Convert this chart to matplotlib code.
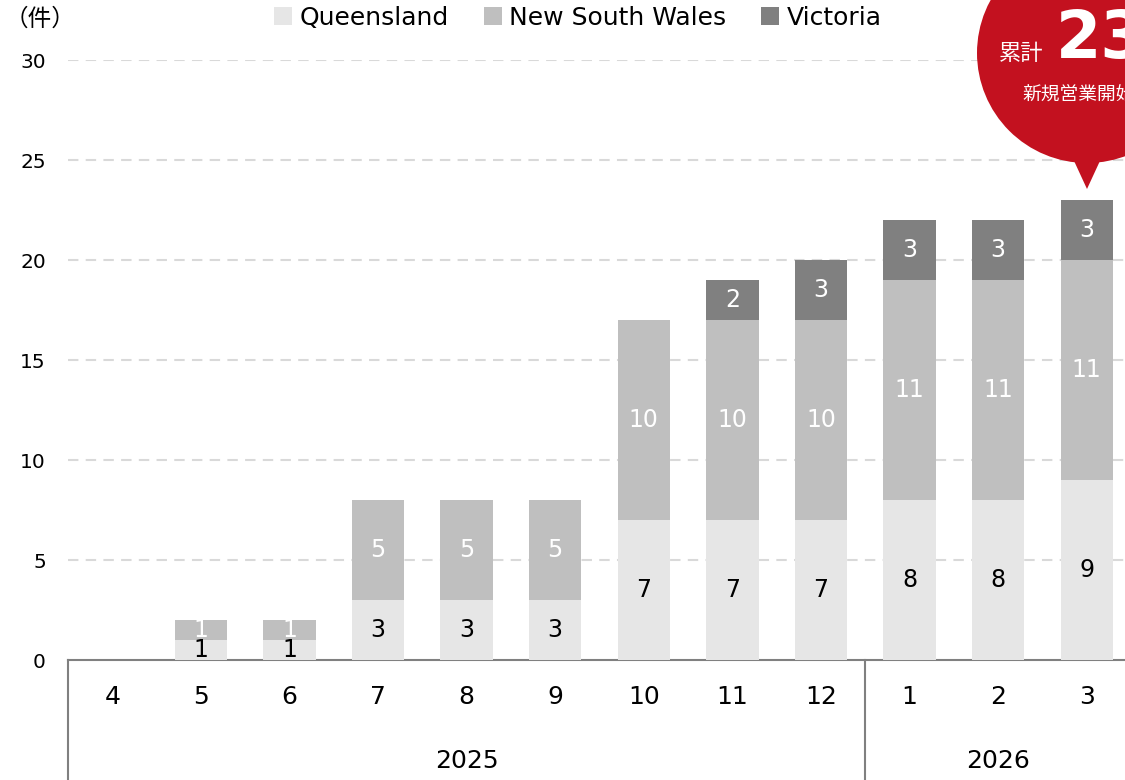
import matplotlib
matplotlib.use("Agg")
import matplotlib.pyplot as plt
from matplotlib.patches import Patch, Circle, Polygon
from matplotlib.lines import Line2D
import numpy as np

months = ["4", "5", "6", "7", "8", "9", "10", "11", "12", "1", "2", "3"]
years = ["2025", "2026"]
year_counts = [9, 3]
series_names = ["Queensland", "New South Wales", "Victoria"]
queensland = [0, 1, 1, 3, 3, 3, 7, 7, 7, 8, 8, 9]
nsw = [0, 1, 1, 5, 5, 5, 10, 10, 10, 11, 11, 11]
victoria = [0, 0, 0, 0, 0, 0, 0, 2, 3, 3, 3, 3]
colors = ["#e6e6e6", "#bfbfbf", "#808080"]
label_colors = ["#000000", "#ffffff", "#ffffff"]
yticks = [0, 5, 10, 15, 20, 25, 30]
total_label = "23"

W, H = 1125, 780
fig = plt.figure(figsize=(W / 100, H / 100), dpi=100)
ax = fig.add_axes([68 / W, 120 / H, 1063 / W, 600 / H])

x = np.arange(len(months))
bottom = np.zeros(len(months))
for vals, c, lc in zip([queensland, nsw, victoria], colors, label_colors):
    vals = np.array(vals, dtype=float)
    ax.bar(x, vals, width=0.59, bottom=bottom, color=c, zorder=3)
    for xi, v, b in zip(x, vals, bottom):
        if v > 0:
            ax.text(xi, b + v / 2, f"{int(v)}", ha="center", va="center",
                    color=lc, fontsize=17, zorder=4)
    bottom += vals

ax.set_xlim(-0.5, len(months) - 0.5)
ax.set_ylim(0, 30)
for s in ["top", "right", "left"]:
    ax.spines[s].set_visible(False)
ax.spines["bottom"].set_color("#808080")
ax.spines["bottom"].set_linewidth(1.5)
ax.set_yticks(yticks)
ax.set_yticklabels([str(t) for t in yticks], fontsize=14.5)
ax.tick_params(axis="y", length=0, pad=16)
for t in yticks[1:]:
    ax.axhline(t, color="#d9d9d9", lw=1.5, ls=(0, (5, 3.5)), zorder=1)
ax.set_xticks(x)
ax.set_xticklabels(months, fontsize=18)
ax.tick_params(axis="x", length=0, pad=18)

# group separators and year labels
trans = matplotlib.transforms.blended_transform_factory(ax.transData, ax.transAxes)
start = -0.5
seps = [start]
for yr, n in zip(years, year_counts):
    end = start + n
    ax.text((start + end) / 2, -0.168, yr, transform=trans, ha="center",
            va="center", fontsize=18)
    seps.append(end)
    start = end
for s in seps[:-1]:
    ax.add_line(Line2D([s, s], [0, -0.25], transform=trans, color="#808080",
                       lw=1.5, clip_on=False))

# unit label
fig.text(5 / W, 1 - 19 / H, "（件）", fontsize=17, va="center", ha="left",
         family=["Noto Sans CJK JP", "DejaVu Sans"])

# legend
handles = [Patch(facecolor=c, edgecolor="none") for c in colors]
fig.legend(handles, series_names, loc="center", ncol=3,
           bbox_to_anchor=(578 / W, 1 - 18 / H), frameon=False, fontsize=18,
           handlelength=0.72, handleheight=0.72, handletextpad=0.3,
           columnspacing=1.4, borderpad=0)

# red bubble
ov = fig.add_axes([0, 0, 1, 1], zorder=10)
ov.set_xlim(0, W)
ov.set_ylim(H, 0)
ov.axis("off")
red = "#c3111f"
ov.add_patch(Circle((1087, 53), 110, color=red, lw=0))
ov.add_patch(Polygon([(1069, 150), (1105, 150), (1087, 189)], closed=True,
                     color=red, lw=0))
ov.text(1021, 53, "累計", color="white", fontsize=16, ha="center", va="center",
        family=["Noto Sans CJK JP", "DejaVu Sans"])
ov.text(1056, 40, total_label, color="white", fontsize=47, ha="left",
        va="center", fontweight="bold")
ov.text(1022, 94, "新規営業開始", color="white", fontsize=13.5, ha="left",
        va="center", family=["Noto Sans CJK JP", "DejaVu Sans"])

fig.savefig("out.png", dpi=100)
